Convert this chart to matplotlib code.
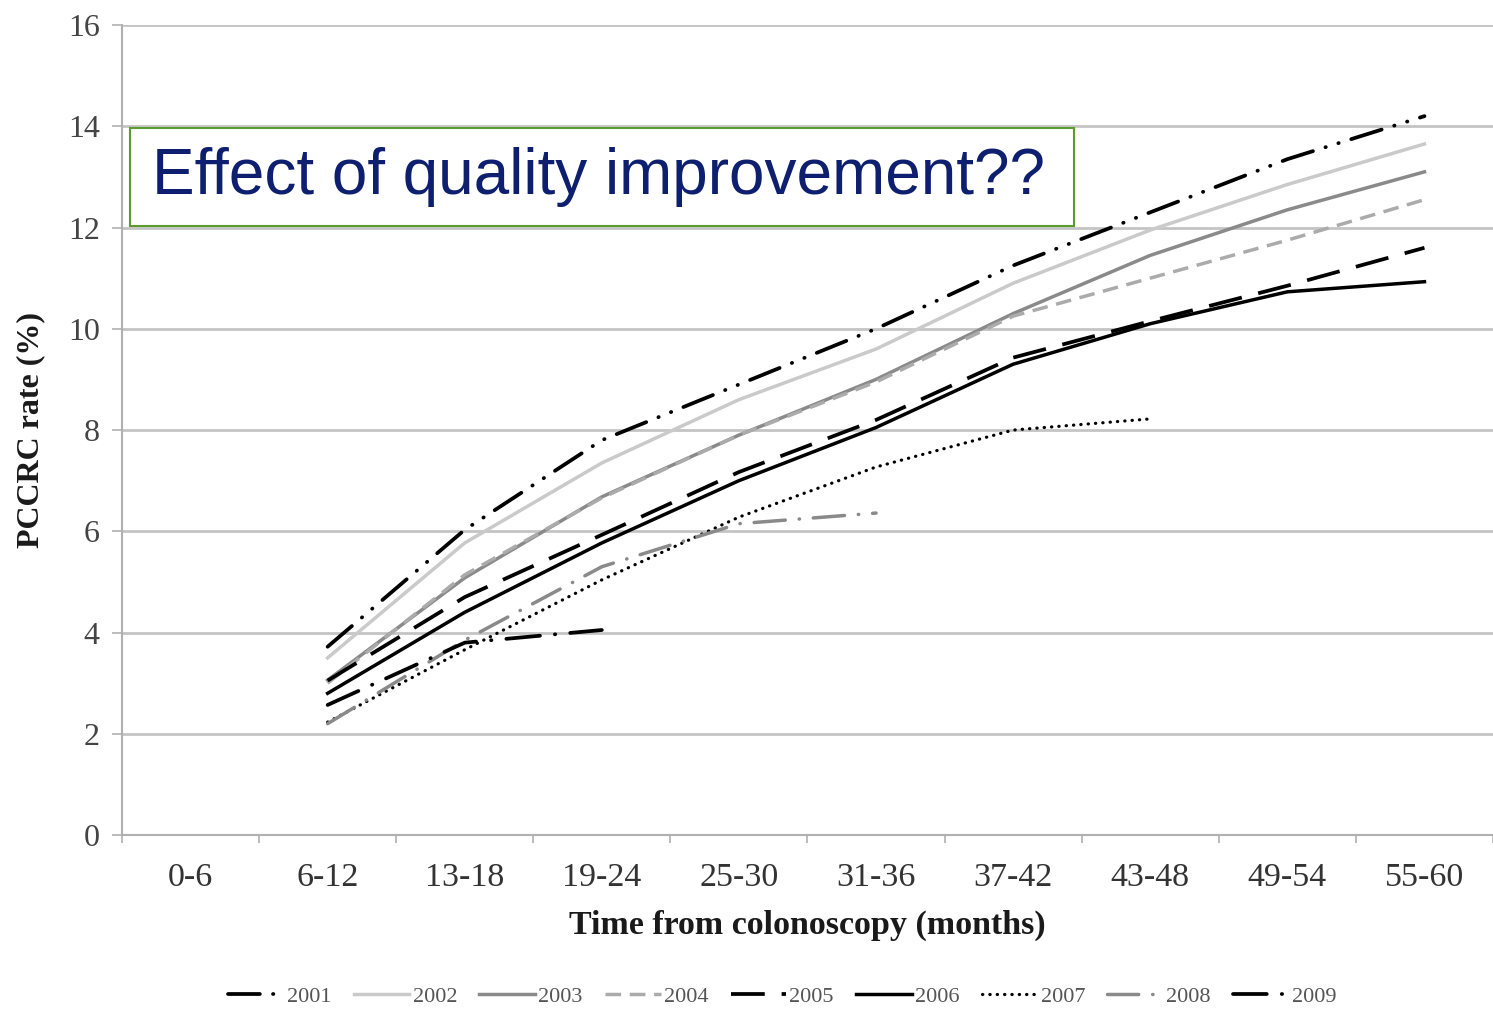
import matplotlib
matplotlib.use("Agg")
import matplotlib.pyplot as plt
from matplotlib.patches import Rectangle
import numpy as np

categories = ["0-6", "6-12", "13-18", "19-24", "25-30", "31-36", "37-42", "43-48", "49-54", "55-60"]
years = ["2001", "2002", "2003", "2004", "2005", "2006", "2007", "2008", "2009"]

# values starting at category "6-12"
v2001 = [3.72, 6.03, 7.80, 8.90, 10.00, 11.25, 12.30, 13.35, 14.20]
v2002 = [3.50, 5.77, 7.35, 8.60, 9.60, 10.90, 11.95, 12.85, 13.65]
v2003 = [3.06, 5.08, 6.68, 7.90, 9.00, 10.30, 11.45, 12.35, 13.10]
v2004 = [3.00, 5.14, 6.66, 7.90, 8.95, 10.25, 11.00, 11.75, 12.55]
v2005 = [3.05, 4.70, 5.93, 7.17, 8.20, 9.43, 10.15, 10.85, 11.60]
v2006 = [2.80, 4.40, 5.77, 7.00, 8.05, 9.30, 10.10, 10.73, 10.93]
v2007 = [2.23, 3.66, 5.04, 6.28, 7.27, 8.00, 8.22]
v2008 = [2.20, 3.85, 5.30, 6.15, 6.36]
v2009 = [2.57, 3.80, 4.05]

series = [v2001, v2002, v2003, v2004, v2005, v2006, v2007, v2008, v2009]
styles = [
    dict(color="black", lw=2.7, dashes=(8.5, 3.5, 0.1, 3.5, 0.1, 3.5), dash_capstyle="round"),
    dict(color="#cacaca", lw=2.5, ls="-"),
    dict(color="#8a8a8a", lw=2.5, ls="-"),
    dict(color="#ababab", lw=2.5, dashes=(4.5, 2.5)),
    dict(color="black", lw=2.7, dashes=(9, 4.5)),
    dict(color="black", lw=2.5, ls="-"),
    dict(color="black", lw=2.3, dashes=(0.1, 2.2), dash_capstyle="round"),
    dict(color="#8a8a8a", lw=2.5, dashes=(9, 4, 0.1, 4), dash_capstyle="round"),
    dict(color="black", lw=2.7, dashes=(9, 4, 0.1, 4), dash_capstyle="round"),
]

fig = plt.figure(figsize=(14.93, 10.09), dpi=100)
ax = fig.add_axes([0.0817, 0.1724, 0.9183, 0.8028])

x = np.arange(len(categories))
for name, vals, st in zip(years, series, styles):
    ax.plot(x[1:1 + len(vals)], vals, label=name, **st)

ax.set_xlim(-0.5, len(categories) - 0.5)
ax.set_ylim(0, 16)
ax.set_yticks(np.arange(0, 17, 2))
ax.yaxis.grid(True, color="#c4c4c4", lw=2)
ax.set_axisbelow(True)
for s in ["top", "right"]:
    ax.spines[s].set_visible(False)
ax.spines["left"].set_color("#b0b0b0")
ax.spines["bottom"].set_color("#b0b0b0")
ax.spines["left"].set_linewidth(1.5)
ax.spines["bottom"].set_linewidth(1.5)

serif = ["Liberation Serif", "DejaVu Serif"]
ax.set_xticks(x)
ax.set_xticklabels(categories, fontsize=24.5, family=serif, color="#333333")
ax.set_xticks(np.arange(-0.5, len(categories), 1), minor=True)
ax.tick_params(axis="x", which="major", length=0, pad=20)
ax.tick_params(axis="x", which="minor", length=6, color="#b0b0b0", width=1.2)
ax.tick_params(axis="y", length=7, color="#b0b0b0", width=1.2, pad=9)
for lab in ax.get_yticklabels():
    lab.set_fontsize(23)
    lab.set_family(serif)
    lab.set_color("#444444")

ax.set_xlabel("Time from colonoscopy (months)", fontsize=24.5, family=serif,
              fontweight="bold", color="#1a1a1a", labelpad=12)
ax.set_ylabel("PCCRC rate (%)", fontsize=23, family=serif,
              fontweight="bold", color="#1a1a1a", labelpad=16)

# annotation box
ax.add_patch(Rectangle((0.0058, 0.752), 0.6885, 0.121, transform=ax.transAxes,
                       fc="white", ec="#5c9b2e", lw=1.5, zorder=5))
ax.text(0.0219, 0.8125, "Effect of quality improvement??", transform=ax.transAxes,
        fontsize=46, family=["Liberation Sans", "DejaVu Sans"], color="#0d1f6e",
        va="center", ha="left", zorder=6)

leg = fig.legend(loc="center", bbox_to_anchor=(0.524, 0.012), ncol=9, frameon=False,
                 handlelength=2.5, handletextpad=0.15, columnspacing=1.0,
                 prop={"family": serif, "size": 16})
for t in leg.get_texts():
    t.set_color("#555555")

fig.savefig("out.png", dpi=100)
